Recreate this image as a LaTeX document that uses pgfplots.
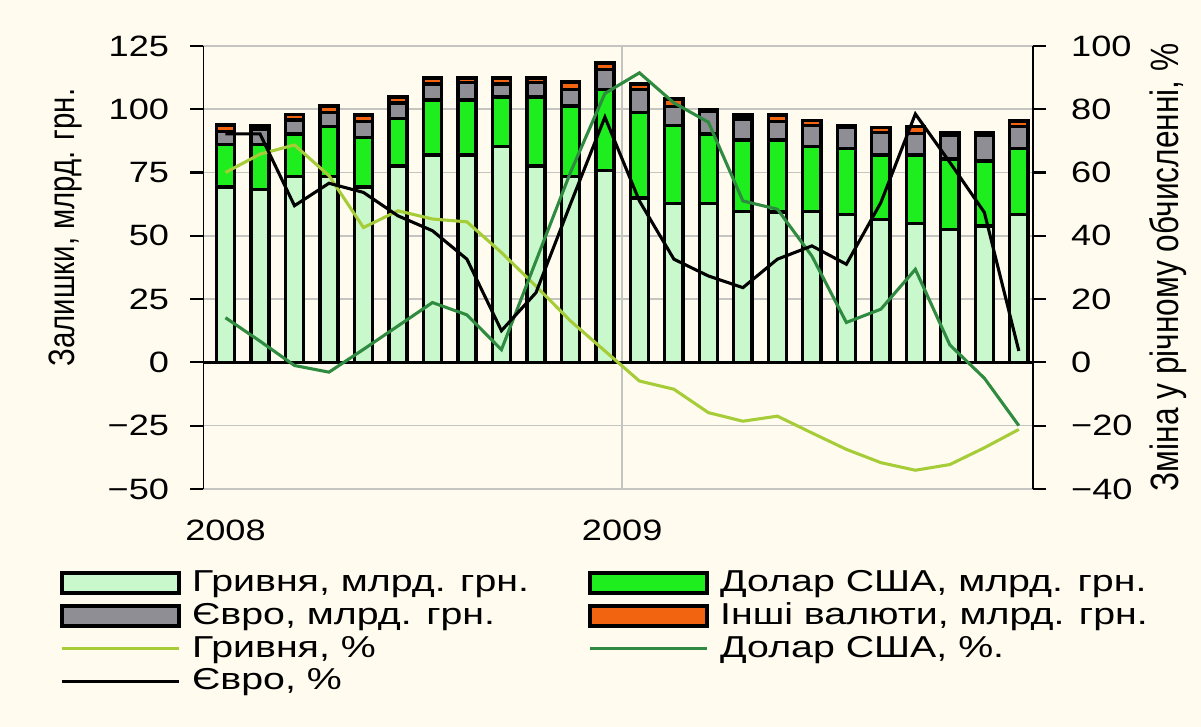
\documentclass[border=0pt]{standalone}
\usepackage{fontspec}
\setmainfont{Liberation Sans}[FakeStretch=1.23]
\newfontfamily\plainfont{Liberation Sans}
\newfontfamily\legfont{Liberation Sans}[FakeStretch=1.3]
\usepackage{pgfplots}
\pgfplotsset{compat=1.18}

\definecolor{bg}{HTML}{FFFCEF}
\definecolor{hry}{HTML}{C8F8CC}
\definecolor{usd}{HTML}{1EEE1E}
\definecolor{eur}{HTML}{8E8E94}
\definecolor{oth}{HTML}{F26410}
\definecolor{hryl}{HTML}{A6CC38}
\definecolor{usdl}{HTML}{2E8B40}
\definecolor{gridc}{HTML}{C4C4C0}

\begin{document}
\begin{tikzpicture}[font=\fontsize{10.8}{13}\selectfont]
\fill[bg] (-72.5pt,-85pt) rectangle (356.4pt,174.6pt);
\useasboundingbox (-72.5pt,-85pt) rectangle (356.4pt,174.6pt);

% balances, bn UAH
\begin{axis}[
  at={(0,0)}, anchor=south west,
  scale only axis, width=296.4pt, height=158.2pt,
  xmin=-0.652, xmax=23.41,
  ymin=-50, ymax=125,
  ytick={-50,-25,...,125},
  yticklabels={−50,−25,0,25,50,75,100,125},
  ytick pos=left,
  tick align=outside,
  major tick length=4.6pt,
  ytick style={black, line width=0.8pt},
  yticklabel style={xshift=-4pt},
  xtick={0,11.5},
  xticklabels={2008,2009},
  xtick style={draw=none},
  xticklabel style={yshift=-3pt},
  extra x ticks={11.5},
  extra x tick labels={},
  extra x tick style={grid=major, major tick length=0pt},
  ymajorgrids=true,
  major grid style={draw=gridc, line width=0.6pt},
  axis line style={draw=none},
  ticklabel style={font=\fontsize{10.5}{12}\selectfont},
  ylabel={\plainfont\fontsize{10.5}{13}\selectfont\scalebox{1}[1.25]{Залишки, млрд. грн.}},
  ylabel style={at={(axis description cs:-0.166,0.59)}, anchor=center},
  ybar stacked, bar width=6.5pt,
]
\addplot[fill=hry, draw=black, line width=1.2pt] coordinates {
 (0,69.3) (1,68.4) (2,73.3) (3,73.3) (4,69.3) (5,77.5) (6,81.9) (7,81.9)
 (8,85.2) (9,77.5) (10,73.5) (11,75.9) (12,64.9) (13,62.7) (14,62.7) (15,59.7)
 (16,59.4) (17,59.7) (18,58.3) (19,56.5) (20,54.8) (21,52.4) (22,53.8) (23,58.3)};
\addplot[fill=usd, draw=black, line width=1.2pt] coordinates {
 (0,16.7) (1,17.6) (2,16.9) (3,19.8) (4,19.5) (5,18.9) (6,21.8) (7,21.8)
 (8,19.6) (9,27.3) (10,27.8) (11,31.8) (12,33.9) (13,30.8) (14,27.5) (15,28.1)
 (16,28.4) (17,25.5) (18,26.2) (19,25.4) (20,27.1) (21,27.9) (22,25.7) (23,26.2)};
\addplot[fill=eur, draw=black, line width=1.2pt] coordinates {
 (0,5.1) (1,6.2) (2,5.6) (3,5.7) (4,6.3) (5,6.0) (6,6.3) (7,6.9)
 (8,5.2) (9,5.8) (10,6.4) (11,7.9) (12,8.9) (13,7.5) (14,8.8) (15,8.3)
 (16,7.3) (17,8.3) (18,8.2) (19,9.0) (20,8.6) (21,9.5) (22,10.3) (23,8.6)};
\addplot[fill=oth, draw=black, line width=1.2pt] coordinates {
 (0,2.7) (1,1.3) (2,2.2) (3,2.5) (4,2.6) (5,2.4) (6,2.3) (7,1.7)
 (8,2.3) (9,1.7) (10,3.0) (11,2.7) (12,2.2) (13,3.0) (14,1.0) (15,1.6)
 (16,2.6) (17,2.0) (18,0.8) (19,1.8) (20,2.6) (21,0.9) (22,1.1) (23,2.3)};
\draw[black, line width=1.1pt] (axis cs:-0.652,0) -- (axis cs:23.41,0);
\draw[black, line width=0.8pt] (rel axis cs:0,0) -- (rel axis cs:0,1);
\end{axis}

% year-on-year change, %
\begin{axis}[
  at={(0,0)}, anchor=south west,
  scale only axis, width=296.4pt, height=158.2pt,
  xmin=-0.652, xmax=23.41,
  ymin=-40, ymax=100,
  ytick={-40,-20,...,100},
  yticklabels={−40,−20,0,20,40,60,80,100},
  axis x line=none,
  axis y line*=right,
  y axis line style={black, line width=0.8pt, -},
  tick align=outside,
  major tick length=4.6pt,
  ytick style={black, line width=0.8pt},
  ticklabel style={font=\fontsize{10.5}{12}\selectfont},
  yticklabel style={xshift=5.5pt},
  ylabel={\plainfont\fontsize{11.3}{13}\selectfont\scalebox{1}[1.25]{Зміна у річному обчисленні, \%}},
  ylabel style={at={(axis description cs:1.163,0.5)}, anchor=center},
  legend columns=2,
  legend cell align=left,
  legend image code/.code={\draw[#1] (0pt,0pt) -- (41.8pt,0pt); \path (44pt,0pt);},
  legend style={at={(0,0)}, anchor=north west, xshift=-54.3pt, yshift=-25pt,
    draw=none, fill=none, row sep=-1.5pt, font=\legfont\fontsize{10.8}{13}\selectfont,
    /tikz/every even column/.append style={column sep=19pt}},
]
\addlegendimage{legend image code/.code={\draw[fill=hry, draw=black, line width=1.4pt] (0pt,-3.6pt) rectangle (41.8pt,3.6pt); \path (44pt,0pt);}}
\addlegendimage{legend image code/.code={\draw[fill=usd, draw=black, line width=1.4pt] (0pt,-3.6pt) rectangle (41.8pt,3.6pt); \path (44pt,0pt);}}
\addlegendimage{legend image code/.code={\draw[fill=eur, draw=black, line width=1.4pt] (0pt,-3.6pt) rectangle (41.8pt,3.6pt); \path (44pt,0pt);}}
\addlegendimage{legend image code/.code={\draw[fill=oth, draw=black, line width=1.4pt] (0pt,-3.6pt) rectangle (41.8pt,3.6pt); \path (44pt,0pt);}}
\addplot[hryl, line width=1.1pt] coordinates {
 (0,60) (1,65.8) (2,68.7) (3,59) (4,42.6) (5,47.9) (6,45.3) (7,44.4)
 (8,34.7) (9,24.1) (10,13.1) (11,3.6) (12,-5.9) (13,-8.5) (14,-15.9) (15,-18.6)
 (16,-17) (17,-22.3) (18,-27.5) (19,-31.7) (20,-34.1) (21,-32.3) (22,-27) (23,-21.2)};
\addplot[usdl, line width=1.1pt] coordinates {
 (0,14.1) (1,6.7) (2,-1) (3,-3.1) (4,4.1) (5,11.5) (6,18.9) (7,15)
 (8,4) (9,32) (10,60) (11,85) (12,91.5) (13,82) (14,75.9) (15,51)
 (16,48.4) (17,33.6) (18,12.6) (19,16.8) (20,29.4) (21,5.5) (22,-5) (23,-20)};
\addplot[black, line width=1.1pt] coordinates {
 (0,72.2) (1,72.2) (2,49.5) (3,56.6) (4,53.7) (5,46.3) (6,41.6) (7,32.6)
 (8,10) (9,22) (10,50) (11,77.5) (12,51) (13,32.6) (14,27.3) (15,23.6)
 (16,32.6) (17,36.8) (18,31) (19,50.5) (20,78.5) (21,63.2) (22,47.4) (23,3.6)};
\legend{{Гривня, млрд. грн.}, {Долар США, млрд. грн.}, {Євро, млрд. грн.}, {Інші валюти, млрд. грн.}, {Гривня, \%}, {Долар США, \%.}, {Євро, \%}}
\end{axis}
\end{tikzpicture}
\end{document}
